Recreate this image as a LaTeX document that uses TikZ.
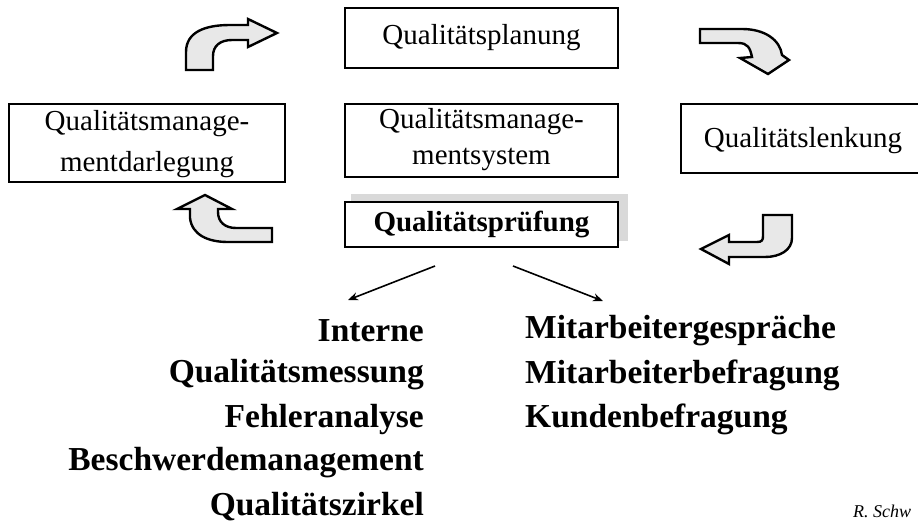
\documentclass[tikz,border=0pt]{standalone}
\usepackage{fontspec}
\setmainfont{Liberation Serif}
\usetikzlibrary{arrows.meta}
\begin{document}
\begin{tikzpicture}[x=1pt,y=-1pt,
  box/.style={draw=black, line width=1.8pt, fill=white, inner sep=0pt},
  lbl/.style={font=\fontsize{29}{37}\selectfont, align=center},
  method/.style={font=\fontsize{33.5}{36}\selectfont\bfseries, inner sep=0pt},
  turn/.style={draw=black, line width=2.4pt, line join=miter, fill=gray!18},
  link/.style={draw=black, line width=1.6pt, -{Stealth[length=10pt,width=8pt]}}]
\useasboundingbox (0,0) rectangle (918,522);
\clip (0,0) rectangle (918,522);

% process boxes
\node[box, minimum width=273pt, minimum height=60pt] (plan) at (481.5,38) {};
\node[lbl] at (plan) {Qualitätsplanung};

\node[box, minimum width=276pt, minimum height=78pt] (darl) at (147,143) {};
\node[lbl, font=\fontsize{29}{41}\selectfont] at (147,144) {Qualitätsmanage-\\mentdarlegung};

\node[box, minimum width=273pt, minimum height=73pt] (sys) at (481.5,140.5) {};
\node[lbl, font=\fontsize{29}{36}\selectfont] at (481.5,140) {Qualitätsmanage-\\mentsystem};

\node[box, minimum width=250pt, minimum height=69pt] (lenk) at (806,138.5) {};
\node[lbl] at (803,141) {Qualitätslenkung};

% shaded test box
\fill[gray!30] (351,194) rectangle (628,241);
\node[box, minimum width=273pt, minimum height=45pt] (pruef) at (481.5,224.5) {};
\node[lbl, font=\fontsize{29}{33}\selectfont\bfseries] at (pruef) {Qualitätsprüfung};

% cycle arrows
\path[turn] (186,70) -- (186,52) .. controls (186,32) and (205,25) .. (230,25)
  -- (248,25) -- (248,19) -- (277,33) -- (248,47) -- (248,40) -- (232,40)
  .. controls (220,40) and (213,46) .. (213,56) -- (213,70) -- cycle;
\path[turn] (700,29) -- (742,29) .. controls (765,29) and (780,40) .. (782,55)
  -- (789,60) -- (768,74) -- (740,58) -- (752,57)
  .. controls (750,48) and (748,43) .. (738,43) -- (700,43) -- cycle;
\path[turn] (763,215) -- (792,215) -- (792,238) .. controls (792,250) and (780,257) .. (765,257)
  -- (729,257) -- (729,264) -- (701,249) -- (729,235) -- (729,242) -- (757,242)
  .. controls (762,242) and (763,240) .. (763,236) -- cycle;
\path[turn] (272,228) -- (236,228) .. controls (225,228) and (218,222) .. (218,212)
  -- (218,209) -- (232,209) -- (205,195) -- (177,209) -- (190,209) -- (190,218)
  .. controls (192,235) and (208,242) .. (228,242) -- (272,242) -- cycle;

% branches of the test box
\coordinate (la) at (435,266);
\coordinate (lb) at (348,300);
\coordinate (ra) at (513,266);
\coordinate (rb) at (603,301);
\draw[link] (la) -- (lb);
\draw[link] (ra) -- (rb);

% methods
\node[method, anchor=east] (m1) at (424,331) {Interne};
\node[method, anchor=east] (m2) at (424,375) {Qualitätsmessung};
\node[method, anchor=east] (m3) at (424,419) {Fehleranalyse};
\node[method, anchor=east] (m4) at (424,463) {Beschwerdemanagement};
\node[method, anchor=east] (m5) at (424,507) {Qualitätszirkel};
\node[method, anchor=west] (e1) at (525,331) {Mitarbeitergespräche};
\node[method, anchor=west] (e2) at (525,375) {Mitarbeiterbefragung};
\node[method, anchor=west] (e3) at (525,419) {Kundenbefragung};

\node[anchor=west, inner sep=0pt, font=\fontsize{18}{20}\selectfont\itshape] (auth) at (853,511) {R. Schw};
\end{tikzpicture}
\end{document}
